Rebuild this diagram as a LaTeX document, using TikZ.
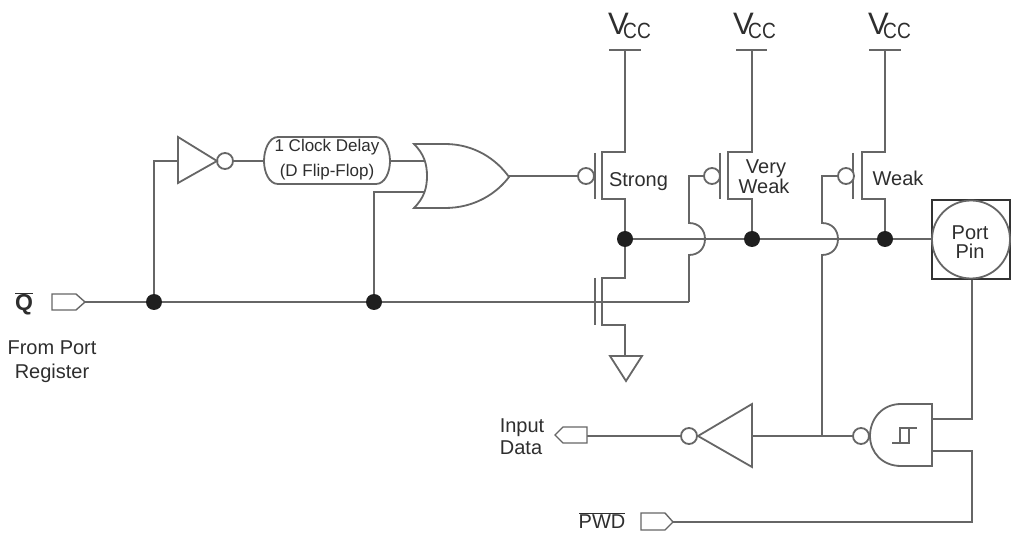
\documentclass[tikz,border=0pt]{standalone}
\usepackage{graphicx}
\usepackage{fontspec}
\setmainfont{Liberation Sans}
\definecolor{wirec}{HTML}{666666}
\definecolor{txtc}{HTML}{2E2E2E}
\tikzset{
  wire/.style={draw=wirec,line width=1.8pt,line join=miter},
  heavy/.style={draw=black!80,line width=2.4pt},
  bubble/.style={circle,draw=wirec,line width=1.8pt,fill=white,minimum size=16pt,inner sep=0pt,outer sep=0pt},
  jdot/.style={circle,fill=black!88,minimum size=16pt,inner sep=0pt,outer sep=0pt},
  lbl/.style={anchor=base,text=txtc,inner sep=0pt,font=\fontsize{20}{22}\selectfont},
  small/.style={anchor=base,text=txtc,inner sep=0pt,font=\fontsize{17}{19}\selectfont},
  vcc/.style={anchor=base west,text=txtc,inner sep=0pt}
}
\newcommand{\vccmark}{\fontsize{31}{33}\selectfont V\kern-5.7pt\raisebox{-4pt}{\scalebox{0.87}[1]{\fontsize{22}{24}\selectfont CC}}}
\begin{document}
\begin{tikzpicture}[x=1pt,y=-1pt]
\useasboundingbox (0,0) rectangle (1018,537);
\fill[white] (0,0) rectangle (1018,537);

% ---- named points
\coordinate (qtip) at (85,302);
\coordinate (invA) at (178,161);
\coordinate (orA) at (427,161);
\coordinate (orB) at (424,192);
\coordinate (orOut) at (509,176);
\coordinate (topS) at (625,50);
\coordinate (topV) at (752,50);
\coordinate (topW) at (885,50);
\coordinate (nGateEnd) at (689,302);
\coordinate (pinOut) at (972,279);
\coordinate (schA) at (932,419);
\coordinate (schB) at (932,451);
\coordinate (pwdTip) at (673,522);
\coordinate (inFlag) at (587,436);
\coordinate (invBase) at (752,436);
\coordinate (tap) at (822,436);
\coordinate (pinIn) at (932,239);

% ---- junctions
\node[jdot] (j1) at (154,302) {};
\node[jdot] (j2) at (374,302) {};
\node[jdot] (jS) at (625,239) {};
\node[jdot] (jV) at (752,239) {};
\node[jdot] (jW) at (885,239) {};

% ---- wires
\draw[wire] (qtip) -- (j1) -- (j2) -- (nGateEnd);
\draw[wire] (j1) -- (154,161) -- (invA);
\draw[wire] (j2) -- (374,192) -- (orB);
\draw[wire] (233,161) -- (265,161);
\draw[wire] (389,161) -- (orA);
\draw[wire] (orOut) -- (578,176);
% horizontal output rail
\draw[wire] (jS) -- (jV) -- (jW) -- (pinIn);
% Strong
\draw[wire] (topS) -- (625,152) -- (602,152) -- (602,199) -- (625,199) -- (jS);
\draw[wire] (595,153) -- (595,199);
\draw[wire] (609,50) -- (641,50);
% NMOS
\draw[wire] (jS) -- (625,278) -- (602,278) -- (602,325) -- (625,325) -- (625,356);
\draw[wire] (595,278) -- (595,325);
\draw[wire] (610,356) -- (642,356) -- (626,381) -- cycle;
% Very weak
\draw[wire] (topV) -- (752,152) -- (728,152) -- (728,199) -- (752,199) -- (jV);
\draw[wire] (720,153) -- (720,199);
\draw[wire] (736,50) -- (767,50);
\draw[wire] (nGateEnd) -- (689,255) .. controls (699,255) and (705,248) .. (705,239)
   .. controls (705,230) and (699,223) .. (689,223) -- (689,176) -- (704,176);
% Weak
\draw[wire] (topW) -- (885,152) -- (862,152) -- (862,199) -- (885,199) -- (jW);
\draw[wire] (853,153) -- (853,199);
\draw[wire] (869,50) -- (901,50);
\draw[wire] (tap) -- (822,255) .. controls (832,255) and (838,248) .. (838,239)
   .. controls (838,230) and (832,223) .. (822,223) -- (822,176) -- (838,176);
% lower side
\draw[wire] (pinOut) -- (972,419) -- (schA);
\draw[wire] (schB) -- (972,451) -- (972,522) -- (pwdTip);
\draw[wire] (invBase) -- (tap) -- (853,436);
\draw[wire] (inFlag) -- (681,436);

% ---- bubbles
\node[bubble] (b0) at (225,161) {};
\node[bubble] (bS) at (586,176) {};
\node[bubble] (bV) at (712,176) {};
\node[bubble] (bW) at (846,176) {};
\node[bubble] (bI) at (689,436) {};
\node[bubble] (bN) at (861,436) {};

% ---- gates
\draw[wire,fill=white] (178,137) -- (217,161) -- (178,183) -- cycle;
\draw[wire,fill=white] (278,137) -- (376,137) .. controls (385,137) and (390,150) .. (390,161)
   .. controls (390,172) and (385,184) .. (376,184) -- (278,184)
   .. controls (269,184) and (264,172) .. (264,161) .. controls (264,150) and (269,137) .. (278,137) -- cycle;
\draw[wire,fill=white] (414,144) -- (445,144) .. controls (475,144) and (497,160) .. (509,177)
   .. controls (497,193) and (475,208) .. (445,208) -- (414,208)
   .. controls (424,198) and (427,188) .. (427,176) .. controls (427,164) and (424,154) .. (414,144) -- cycle;
\draw[wire,fill=white] (752,404) -- (752,467) -- (698,436) -- cycle;
\draw[wire,fill=white] (932,404) -- (932,466) -- (901,466)
   .. controls (882,466) and (870,452) .. (870,436) .. controls (870,419) and (882,404) .. (901,404) -- cycle;
\draw[wire,line width=1.4pt] (892,443) -- (909,443) -- (909,428);
\draw[wire,line width=1.4pt] (900,443) -- (900,428) -- (917,428);

% ---- flags
\draw[wire,line width=1.4pt,fill=white] (52,294) -- (76,294) -- (85,302) -- (76,310) -- (52,310) -- cycle;
\draw[wire,line width=1.4pt,fill=white] (641,513) -- (665,513) -- (673,522) -- (665,530) -- (641,530) -- cycle;
\draw[wire,line width=1.4pt,fill=white] (587,427) -- (563,427) -- (555,435) -- (563,443) -- (587,443) -- cycle;

% ---- port pin
\draw[heavy,fill=white] (932,200) rectangle (1010,279);
\draw[wire,fill=white] (971,239.5) circle (39);

% ---- text
\node[vcc] (v1) at (608,35) {\vccmark};
\node[vcc] (v2) at (733,35) {\vccmark};
\node[vcc] (v3) at (868,35) {\vccmark};
\node[small] (t1) at (327,152) {1 Clock Delay};
\node[small] (t2) at (327,177) {(D Flip-Flop)};
\node[lbl] (t3) at (638.5,187) {Strong};
\node[lbl] (t4) at (766,174) {Very};
\node[lbl] (t5) at (764,194) {Weak};
\node[lbl] (t6) at (898,186) {Weak};
\node[lbl] (t7) at (970,240) {Port};
\node[lbl] (t8) at (970,259) {Pin};
\node[anchor=base,text=txtc,inner sep=0pt,font=\fontsize{23}{25}\selectfont\bfseries] (t9) at (24,311) {$\overline{\hbox{Q}}$};
\node[lbl] (t10) at (52,355) {From Port};
\node[lbl] (t11) at (52,378) {Register};
\node[lbl] (t12) at (522,432) {Input};
\node[lbl] (t13) at (521,454) {Data};
\node[lbl] (t14) at (602,528) {PWD};
\draw[wire,line width=1pt,draw=txtc] (579,513) -- (625,513);
\end{tikzpicture}
\end{document}
